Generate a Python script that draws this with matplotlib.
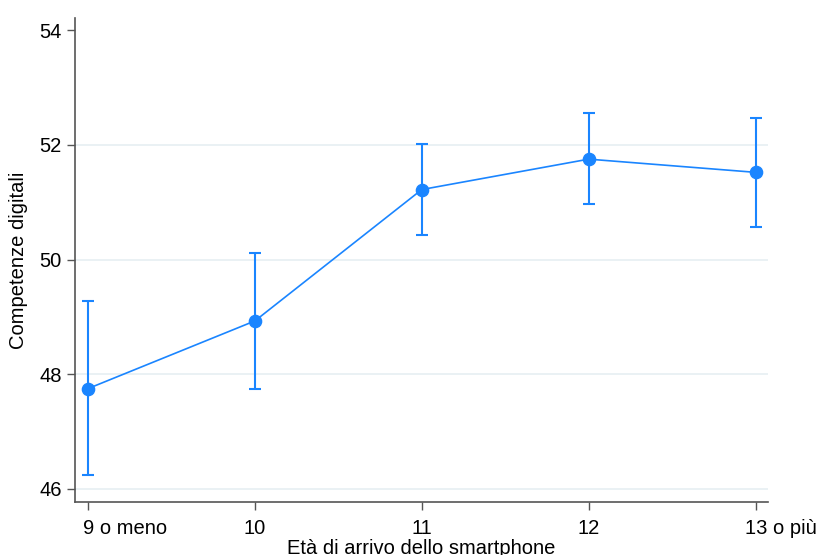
import matplotlib.pyplot as plt
import matplotlib.transforms as mtransforms
import numpy as np

plt.rcParams['font.family'] = ['Liberation Sans', 'DejaVu Sans']

# Età di arrivo dello smartphone vs competenze digitali (media e IC 95%)
ages = [9, 10, 11, 12, 13]
age_labels = ['9 o meno', '10', '11', '12', '13 o più']
means = [47.75, 48.93, 51.22, 51.75, 51.52]
ci_low = [46.25, 47.75, 50.42, 50.96, 50.56]
ci_high = [49.27, 50.12, 52.01, 52.55, 52.46]
y_ticks = [46, 48, 50, 52, 54]
grid_levels = [46, 48, 50, 52]

blue = '#1a85ff'
axis_grey = '#555555'

fig = plt.figure(figsize=(8.19, 5.55), dpi=100)
ax = fig.add_axes([0.0916, 0.0955, 0.846, 0.872])

means_arr = np.array(means)
yerr = [means_arr - np.array(ci_low), np.array(ci_high) - means_arr]

for g in grid_levels:
    ax.axhline(g, color='#e6eff2', lw=1.2, zorder=0)

ax.errorbar(ages, means, yerr=yerr, fmt='none', ecolor=blue,
            elinewidth=1.5, capsize=4.2, capthick=1.5, zorder=2)
ax.plot(ages, means, color=blue, lw=1.2, marker='o', markersize=8.8,
        zorder=3)

ax.set_xlim(8.922, 13.074)
ax.set_ylim(45.773, 54.21)
ax.set_yticks(y_ticks)
ax.set_xticks(ages)
ax.set_xticklabels(age_labels)

for side in ['top', 'right']:
    ax.spines[side].set_visible(False)
for side in ['left', 'bottom']:
    ax.spines[side].set_color(axis_grey)
    ax.spines[side].set_linewidth(1.2)

ax.tick_params(axis='both', colors=axis_grey, length=5.5, width=1.0,
               labelsize=14.5, labelcolor='black')
ax.tick_params(axis='x', pad=7)
ax.tick_params(axis='y', pad=4)

# the number sits on the tick, the extra words trail off to the right
for lab, shift in [(ax.get_xticklabels()[0], -5), (ax.get_xticklabels()[-1], -11)]:
    lab.set_horizontalalignment('left')
    lab.set_transform(lab.get_transform() +
                      mtransforms.ScaledTranslation(shift / 100, 0, fig.dpi_scale_trans))

ax.set_ylabel('Competenze digitali', fontsize=14.5)
ax.yaxis.set_label_coords(-0.068, 0.5)
ax.set_xlabel('Età di arrivo dello smartphone', fontsize=14.5)
ax.xaxis.set_label_coords(0.5, -0.076)

fig.savefig('out.png', dpi=100)
